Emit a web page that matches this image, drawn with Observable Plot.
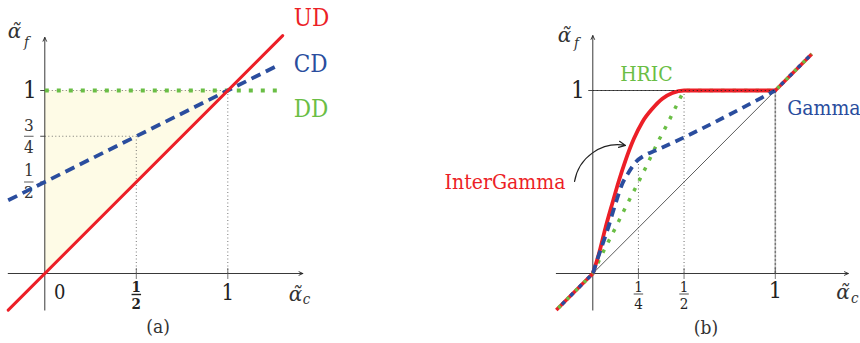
<!DOCTYPE html>
<html><head><meta charset="utf-8">
<script src="https://cdn.jsdelivr.net/npm/d3@7"></script>
<script src="https://cdn.jsdelivr.net/npm/@observablehq/plot@0.6"></script>
<style>
html,body{margin:0;padding:0;background:#fff;}
#wrap{position:relative;width:860px;height:343px;overflow:hidden;}
#wrap > svg{position:absolute;top:0;}
#wrap svg text{font-family:"DejaVu Serif Condensed","DejaVu Serif",serif !important;}
#wrap svg text.dv{font-family:"DejaVu Serif",serif !important;}
</style></head><body><div id="wrap"></div>
<script>
// ---------- Panel (a) data ----------
const udLine = [[-0.2, -0.2], [1.3, 1.3]];
const cdLine = [[-0.2, 0.4], [1.28, 1.14]];
const ddLine = [[0, 1], [1.27, 1]];
const shadeLower = [[0, 0], [1, 1]]; // lower edge of shaded region (upper edge is 1)
const guideA = [ // thin dotted guides [x1,y1,x2,y2]
  [0, 1, 1, 1], [0, 0.75, 0.5, 0.75], [0.5, 0, 0.5, 0.75], [1, 0, 1, 1]
];
const xTickValsA = [0, 0.5, 1];
const xTickLabA = ["0", "1/2", "1"];
const yTickValsA = [0.5, 0.75, 1];
const yTickLabA = ["1/2", "3/4", "1"];
const seriesLabA = ["UD", "CD", "DD"];
const seriesLabYA = [1.396, 1.142, 0.896];

// ---------- Panel (b) data ----------
const interGamma = [[0,0],[0.033,0.106],[0.07,0.252],[0.106,0.38],[0.143,0.507],[0.179,0.617],[0.225,0.736],[0.271,0.827],[0.326,0.9],[0.381,0.955],[0.436,0.986],[0.5,1],[1,1]];
const gamma = [[0,0],[0.033,0.1],[0.079,0.234],[0.124,0.38],[0.161,0.489],[0.197,0.553],[0.234,0.607],[0.289,0.648],[0.344,0.672],[1,1]];
const hric = [[0,0],[0.06,0.124],[0.121,0.243],[0.179,0.361],[0.238,0.475],[0.298,0.595],[0.353,0.712],[0.413,0.826],[0.472,0.945],[0.5,1],[1,1]];
const extLow = [[-0.2, -0.2], [0, 0]];
const extHigh = [[1, 1], [1.2, 1.2]];
const diagB = [[0, 0], [1, 1]];
const xTickValsB = [0.25, 0.5, 1];
const xTickLabB = ["1/4", "1/2", "1"];
const yTickValsB = [1];
const yTickLabB = ["1"];
const seriesLabB = ["HRIC", "Gamma", "InterGamma"];
const seriesLabPosB = [[0.294, 1.09], [1.065, 0.905], [-0.15, 0.497]];
const arrowB = [[-0.1, 0.503, 0.179, 0.70]];

// ---------- styles ----------
const RED = "#ec1f27", BLUE = "#2a4d9e", GREEN = "#6abe45", SHADE = "#fefbe6";
const FONT = "DejaVu Serif";
const X = d => d[0], Y = d => d[1];
const barHalf = 0.026;
const seg = (o) => ({x1: d=>d[0], y1: d=>d[1], x2: d=>d[2], y2: d=>d[3], ...o});
const txt = (o) => ({fontFamily: FONT, lineAnchor: "middle", fill: "#222", ...o});

function axisArrows(xr, yr) {
  return [
    Plot.arrow([[xr[0], 0, xr[1], 0]], seg({stroke: "#222", strokeWidth: 0.9, headLength: 7, headAngle: 50})),
    Plot.arrow([[0, yr[0], 0, yr[1]]], seg({stroke: "#222", strokeWidth: 0.9, headLength: 7, headAngle: 50}))
  ];
}

function parseLabels(vals, labs) {
  const all = vals.map((v, i) => ({v, l: labs[i], n: labs[i].split("/")[0], d: labs[i].split("/")[1]}));
  return {whole: all.filter(d => !d.l.includes("/")), frac: all.filter(d => d.l.includes("/"))};
}

function xTickMarks(vals, labs, o) {
  const {whole, frac} = parseLabels(vals, labs);
  return [
    Plot.link(vals.filter(v => v !== 0).map(v => [v, -0.03, v, 0.03]), seg({stroke: "#555", strokeWidth: 0.8})),
    Plot.text(whole.filter(d => d.v !== 0), {x: d => d.v, y: d => 0, text: d => d.l, ...txt({dy: o.wholeDy, fontSize: o.wholeSize})}),
    Plot.text(whole.filter(d => d.v === 0), {x: d => d.v, y: d => 0, text: d => d.l, ...txt({dy: o.wholeDy, dx: 15, fontSize: o.zeroSize})}),
    Plot.text(frac, {x: d => d.v, y: d => 0, text: d => d.n, ...txt({dy: o.numDy, fontSize: o.fracSize, fontWeight: o.fracWeight})}),
    Plot.text(frac, {x: d => d.v, y: d => 0, text: d => d.d, ...txt({dy: o.denDy, fontSize: o.fracSize, fontWeight: o.fracWeight})}),
    Plot.link(frac.map(d => [d.v - barHalf, 0, d.v + barHalf, 0]), seg({dy: o.barDy, stroke: "#222", strokeWidth: o.fracWeight === "bold" ? 1.4 : 0.8}))
  ];
}

function yTickMarks(vals, labs, o) {
  const {whole, frac} = parseLabels(vals, labs);
  return [
    Plot.link(vals.map(v => [-0.025, v, 0, v]), seg({stroke: "#333", strokeWidth: 0.9})),
    Plot.text(whole, {x: d => 0, y: d => d.v, text: d => d.l, ...txt({dx: o.wholeDx, fontSize: o.wholeSize})}),
    Plot.text(frac, {x: d => 0, y: d => d.v, text: d => d.n, ...txt({dx: o.fracDx, dy: -11, fontSize: o.fracSize, fill: "#333"})}),
    Plot.text(frac, {x: d => 0, y: d => d.v, text: d => d.d, ...txt({dx: o.fracDx, dy: 11, fontSize: o.fracSize, fill: "#333"})}),
    Plot.link(frac.map(d => [-barHalf, d.v, barHalf, d.v]), seg({dx: o.fracDx, stroke: "#333", strokeWidth: 0.8}))
  ];
}

function axisTitles(fx, fy, cx, cy) {
  const t = (p, s, size, cls) => Plot.text([p], {x: d => d[0], y: d => d[1], text: () => s, className: cls, ...txt({fontSize: size, fontStyle: "italic", fill: "#333"})});
  return [
    t(fx, "α\u0303", 20, "dv"), t(fy, "f", 15), t(cx, "α\u0303", 20, "dv"), t(cy, "c", 15)
  ];
}

// ---------- Panel (a) ----------
const plotA = Plot.plot({
  width: 430, height: 343, margin: 0,
  style: {background: "transparent", overflow: "visible"},
  x: {domain: [0, 1], range: [44.3, 227.3], axis: null},
  y: {domain: [0, 1], range: [273, 90], axis: null},
  marks: [
    Plot.areaY(shadeLower, {x: X, y1: Y, y2: d => 1, fill: SHADE}),
    Plot.link(guideA, seg({stroke: "#555", strokeWidth: 0.8, strokeDasharray: "1,2.5"})),
    ...axisArrows([-0.2, 1.41], [-0.2, 1.29]),
    ...xTickMarks(xTickValsA, xTickLabA, {wholeDy: 19.5, wholeSize: 22, zeroSize: 20, numDy: 13.5, barDy: 21, denDy: 31, fracSize: 15, fracWeight: "bold"}),
    ...yTickMarks(yTickValsA, yTickLabA, {wholeDx: -15, wholeSize: 24, fracDx: -16, fracSize: 17}),
    Plot.line(ddLine, {x: X, y: Y, stroke: GREEN, strokeWidth: 4, strokeDasharray: "4,8", strokeLinecap: "butt"}),
    Plot.line(cdLine, {x: X, y: Y, stroke: BLUE, strokeWidth: 3.8, strokeDasharray: "10,6", strokeLinecap: "butt"}),
    Plot.line(udLine, {x: X, y: Y, stroke: RED, strokeWidth: 3}),
    Plot.text(seriesLabA, {x: () => 1.36, y: (d, i) => seriesLabYA[i], text: d => d, ...txt({fontSize: 24, textAnchor: "start"})}),
    ...axisTitles([-0.166, 1.32], [-0.1, 1.262], [1.37, -0.115], [1.43, -0.139]),
    Plot.text(["(a)"], {x: () => 0.619, y: () => -0.29, text: d => d, ...txt({fontSize: 19, fill: "#333"})})
  ]
});
plotA.querySelectorAll("text").forEach(t => {
  if (t.textContent === "UD") t.setAttribute("fill", RED);
  if (t.textContent === "CD") t.setAttribute("fill", BLUE);
  if (t.textContent === "DD") t.setAttribute("fill", GREEN);
});
plotA.style.left = "0px";

// ---------- Panel (b) ----------
const plotB = Plot.plot({
  width: 430, height: 343, margin: 0,
  style: {background: "transparent", overflow: "visible"},
  x: {domain: [0, 1], range: [162.3, 344.8], axis: null},
  y: {domain: [0, 1], range: [273, 90], axis: null},
  marks: [
    Plot.line(diagB, {x: X, y: Y, stroke: "#333", strokeWidth: 0.8}),
    Plot.link([[0, 1, 1, 1]], seg({stroke: "#222", strokeWidth: 0.8})),
    Plot.link([[0.25, 0, 0.25, 0.607], [0.5, 0, 0.5, 1]], seg({stroke: "#444", strokeWidth: 0.8, strokeDasharray: "1,2.5"})),
    Plot.link([[1, 0, 1, 1]], seg({stroke: "#777", strokeWidth: 1.6, strokeDasharray: "3,1"})),
    ...axisArrows([-0.2, 1.4], [-0.2, 1.3]),
    ...xTickMarks(xTickValsB, xTickLabB, {wholeDy: 17, wholeSize: 23, zeroSize: 20, numDy: 13.5, barDy: 20.5, denDy: 30.5, fracSize: 15, fracWeight: "normal"}),
    ...yTickMarks(yTickValsB, yTickLabB, {wholeDx: -15, wholeSize: 24, fracDx: -16, fracSize: 17}),
    Plot.line(hric, {x: X, y: Y, stroke: GREEN, strokeWidth: 3.5, strokeDasharray: "3.5,8", strokeLinecap: "butt"}),
    Plot.line(interGamma, {x: X, y: Y, stroke: RED, strokeWidth: 3.8, curve: "monotone-x"}),
    Plot.line(gamma, {x: X, y: Y, stroke: BLUE, strokeWidth: 3.8, strokeDasharray: "9,6", strokeLinecap: "butt", curve: "monotone-x"}),
    Plot.link([[0, 1, 1, 1]], seg({stroke: "#222", strokeWidth: 1, strokeDasharray: "1,3"})),
    ...[extLow, extHigh].flatMap(s => [
      Plot.line(s, {x: X, y: Y, stroke: RED, strokeWidth: 3.5, strokeLinecap: "butt"}),
      Plot.line(s, {x: X, y: Y, stroke: BLUE, strokeWidth: 3.5, strokeDasharray: "4,8", strokeDashoffset: 4, strokeLinecap: "butt"}),
      Plot.line(s, {x: X, y: Y, stroke: GREEN, strokeWidth: 3.5, strokeDasharray: "3,9", strokeDashoffset: 9, strokeLinecap: "butt"})
    ]),
    Plot.arrow(arrowB, seg({bend: 45, stroke: "#222", strokeWidth: 1.2, headLength: 9, headAngle: 50})),
    Plot.text(seriesLabB, {x: (d, i) => seriesLabPosB[i][0], y: (d, i) => seriesLabPosB[i][1], text: d => d, ...txt({fontSize: 21, textAnchor: "middle"})}),
    ...axisTitles([-0.155, 1.3], [-0.09, 1.258], [1.371, -0.107], [1.435, -0.134]),
    Plot.text(["(b)"], {x: () => 0.62, y: () => -0.295, text: d => d, ...txt({fontSize: 19, fill: "#333"})})
  ]
});
plotB.querySelectorAll("text").forEach(t => {
  if (t.textContent === "HRIC") t.setAttribute("fill", GREEN);
  if (t.textContent === "Gamma") { t.setAttribute("fill", BLUE); t.setAttribute("text-anchor", "start"); }
  if (t.textContent === "InterGamma") { t.setAttribute("fill", RED); t.setAttribute("text-anchor", "end"); }
});
plotB.style.left = "430px";

document.getElementById("wrap").append(plotA, plotB);
document.querySelectorAll("#wrap g.dv text").forEach(t => t.classList.add("dv"));
</script></body></html>
